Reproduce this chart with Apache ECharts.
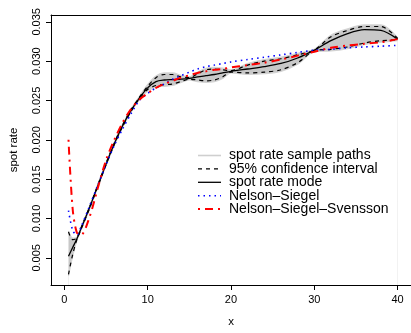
<!DOCTYPE html>
<html>
<head>
<meta charset="utf-8">
<script src="https://cdn.jsdelivr.net/npm/echarts@6/dist/echarts.min.js"></script>
<style>
html,body{margin:0;padding:0;background:#fff;}
#chart{width:411px;height:333px;}
</style>
</head>
<body>
<div id="chart"></div>
<script>
// ---- data ----
const maturities = [0.5, 1, 1.5, 2, 3, 4, 5, 6, 7, 8, 9, 10, 11, 12, 13, 14, 15, 16, 17, 18, 19, 20, 22, 24, 26, 28, 30, 32, 34, 36, 38, 40];
const modeRate   = [0.0052,0.0063,0.0074,0.0087,0.0113,0.0141,0.0169,0.0195,0.0218,0.0237,0.0253,0.0266,0.0274,0.0276,0.02765,0.0277,0.0278,0.0280,0.02815,0.0283,0.0285,0.0287,0.0290,0.0293,0.0297,0.0304,0.0314,0.0326,0.0335,0.0340,0.0339,0.0328];
const ciUpper    = [0.0083,0.0073,0.0075,0.0088,0.0114,0.0142,0.0170,0.0196,0.0219,0.0238,0.0254,0.0268,0.0279,0.0283,0.0283,0.0280,0.0279,0.0284,0.0289,0.0290,0.0289,0.0288,0.0295,0.0300,0.0303,0.0308,0.0314,0.0331,0.0339,0.0344,0.0344,0.0329];
const ciLower    = [0.0029,0.0054,0.0073,0.0086,0.0112,0.0140,0.0168,0.0194,0.0217,0.0236,0.0252,0.0264,0.0269,0.0270,0.0271,0.0274,0.0277,0.0276,0.0275,0.0276,0.0280,0.0286,0.0285,0.0286,0.0289,0.0298,0.0313,0.0315,0.0318,0.0323,0.0326,0.0327];
const pathsUpper = [0.0084,0.0075,0.0076,0.0089,0.0115,0.0143,0.0171,0.0197,0.0220,0.0239,0.0255,0.0270,0.0281,0.0285,0.0285,0.0282,0.0280,0.0286,0.0291,0.0292,0.0291,0.0289,0.0297,0.0302,0.0305,0.0310,0.0315,0.0333,0.0341,0.0346,0.0346,0.0330];
const pathsLower = [0.0027,0.0052,0.0072,0.0085,0.0111,0.0139,0.0167,0.0193,0.0216,0.0235,0.0251,0.0262,0.0267,0.0268,0.0269,0.0273,0.0276,0.0274,0.0273,0.0274,0.0278,0.0285,0.0283,0.0284,0.0287,0.0296,0.0312,0.0313,0.0316,0.0321,0.0324,0.0326];
const nsRate     = [0.0110,0.0085,0.0079,0.0089,0.0115,0.0142,0.0168,0.0193,0.0214,0.0233,0.0250,0.0259,0.0266,0.0271,0.0277,0.02815,0.0286,0.0290,0.0293,0.0295,0.0297,0.0299,0.0302,0.0305,0.0308,0.0311,0.0314,0.0315,0.0317,0.0318,0.0319,0.0320];
const nssRate    = [0.0200,0.0112,0.0082,0.0079,0.0101,0.0138,0.0174,0.0200,0.0222,0.0239,0.0251,0.0259,0.0266,0.0271,0.0275,0.0279,0.0282,0.0285,0.0287,0.0289,0.0290,0.0292,0.0295,0.0298,0.0302,0.0307,0.0312,0.0317,0.0320,0.0322,0.0324,0.0328];
const xTicks = [0, 10, 20, 30, 40];
const yTicks = [0.005, 0.010, 0.015, 0.020, 0.025, 0.030, 0.035];
const legendNames = ['spot rate sample paths', '95% confidence interval', 'spot rate mode', 'Nelson\u2013Siegel', 'Nelson\u2013Siegel\u2013Svensson'];

// ---- helpers ----
const FONT = 'Liberation Sans, Arial, Helvetica, sans-serif';
const pairs = ys => maturities.map((x, i) => [x, ys[i]]);
const SMOOTH = 0.3;

const styles = {
  paths: { color: '#d3d3d3', width: 1.2, type: 'solid' },
  ci:    { color: '#000000', width: 1.2, type: [4, 4] },
  mode:  { color: '#000000', width: 1.3, type: 'solid' },
  ns:    { color: '#0000ff', width: 1.6, type: [1.5, 4] },
  nss:   { color: '#ff0000', width: 2, type: [2, 5, 8, 5] }
};
const legendStyles = [{ color: '#cfcfcf', width: 1.6, type: 'solid' }, styles.ci, styles.mode, styles.ns, styles.nss];

function lineSeries(name, ys, style, extra) {
  return Object.assign({
    name: name, type: 'line', data: pairs(ys), smooth: SMOOTH,
    symbol: 'none', silent: true, animation: false,
    lineStyle: { color: style.color, width: style.width, type: style.type, cap: 'butt' }
  }, extra || {});
}

// legend built as graphic elements (line sample + text)
const legendGraphic = [];
legendNames.forEach((name, i) => {
  const y = 155.5 + i * 13.4;
  const st = legendStyles[i];
  legendGraphic.push({
    type: 'line', z: 100, shape: { x1: 198, y1: y, x2: 221, y2: y },
    style: { stroke: st.color, lineWidth: st.width, lineDash: st.type === 'solid' ? null : st.type }
  });
  legendGraphic.push({
    type: 'text', z: 100, x: 229, y: y,
    style: { text: name, fontSize: 14, fontFamily: FONT, fill: '#000', textVerticalAlign: 'middle', textAlign: 'left' }
  });
});

const axisCommon = {
  axisLine: { show: true, onZero: false, lineStyle: { color: '#000', width: 1 } },
  splitLine: { show: false }
};

const chart = echarts.init(document.getElementById('chart'), null, { renderer: 'canvas' });
chart.setOption({
  backgroundColor: '#ffffff',
  animation: false,
  grid: { left: 50, top: 15, width: 363, height: 278, show: false },
  xAxis: [Object.assign({
    type: 'value', min: -1.6, max: 41.61, z: 10, position: 'bottom',
    name: 'x', nameLocation: 'middle', nameGap: 31,
    nameTextStyle: { fontSize: 11.5, fontFamily: FONT, color: '#000' },
    axisTick: { show: true, length: 5, customValues: xTicks, lineStyle: { color: '#000', width: 1 } },
    axisLabel: { customValues: xTicks, margin: 9, fontSize: 11, fontFamily: FONT, color: '#000' }
  }, axisCommon), Object.assign({
    type: 'value', min: -1.6, max: 41.61, z: 10, position: 'top',
    axisTick: { show: false }, axisLabel: { show: false }
  }, axisCommon)],
  yAxis: Object.assign({
    type: 'value', min: 0.001543, max: 0.035864, z: 10,
    name: 'spot rate', nameLocation: 'middle', nameGap: 31,
    nameTextStyle: { fontSize: 11.5, fontFamily: FONT, color: '#000' },
    axisTick: { show: true, length: 5, customValues: yTicks, lineStyle: { color: '#000', width: 1 } },
    axisLabel: { customValues: yTicks, rotate: 90, margin: 9, fontSize: 11, fontFamily: FONT, color: '#000',
                 formatter: v => v.toFixed(3) }
  }, axisCommon),
  series: [
    // envelope of the sample paths: grey area under the upper edge, masked in white under the lower edge
    lineSeries(legendNames[0], pathsUpper, styles.paths, { areaStyle: { color: '#c8c8c8', opacity: 1 } }),
    lineSeries(legendNames[0] + ' lower', pathsLower, styles.paths, { areaStyle: { color: '#ffffff', opacity: 1 } }),
    lineSeries(legendNames[1], ciUpper, styles.ci),
    lineSeries(legendNames[1] + ' lower', ciLower, styles.ci),
    lineSeries(legendNames[2], modeRate, styles.mode),
    lineSeries(legendNames[3], nsRate, styles.ns),
    lineSeries(legendNames[4], nssRate, styles.nss)
  ],
  graphic: legendGraphic
});
</script>
</body>
</html>
